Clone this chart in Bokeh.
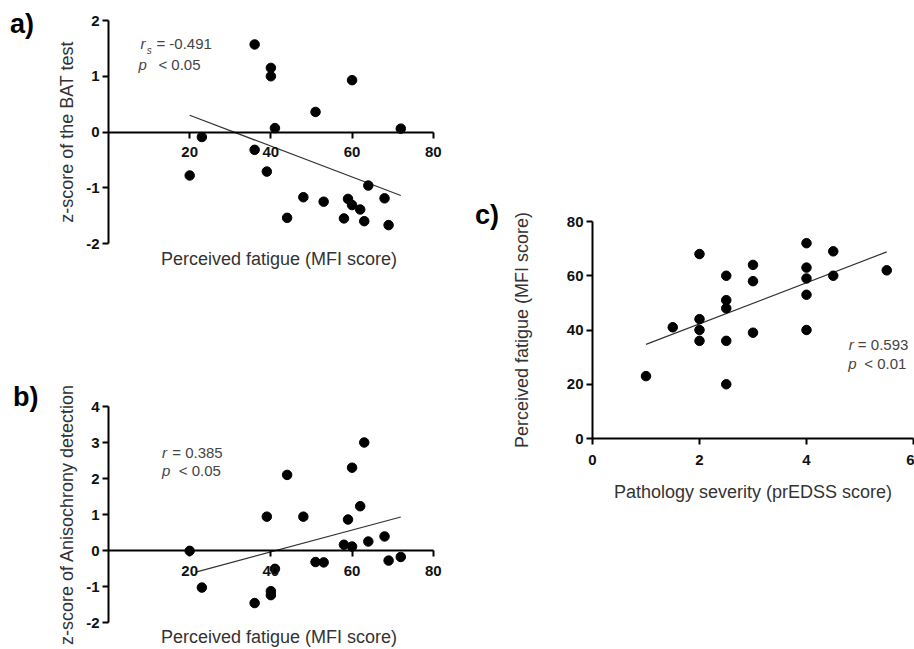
from bokeh.plotting import figure
from bokeh.models import LinearAxis, FixedTicker, Label, Spacer, Range1d, Div, Grid
from bokeh.layouts import row, column
from bokeh.embed import file_html
from bokeh.resources import INLINE

FONT = "Liberation Sans"

# ---- Panel a: BAT z-score vs perceived fatigue ----
a_mfi = [36, 40, 40, 60, 51, 41, 72, 23, 36, 20, 39, 64, 48, 53, 59, 60, 62, 68, 44, 58, 63, 69]
a_bat = [1.57, 1.15, 1.00, 0.93, 0.36, 0.07, 0.06, -0.09, -0.32, -0.78, -0.71, -0.96,
         -1.17, -1.25, -1.20, -1.31, -1.39, -1.19, -1.54, -1.55, -1.60, -1.67]
a_fit_x = [20, 72]
a_fit_y = [0.30, -1.14]

# ---- Panel b: Anisochrony z-score vs perceived fatigue ----
b_mfi = [63, 60, 44, 62, 39, 48, 59, 68, 64, 58, 60, 20, 72, 69, 51, 53, 41, 23, 40, 40, 36]
b_aniso = [3.0, 2.3, 2.1, 1.23, 0.94, 0.94, 0.86, 0.39, 0.25, 0.16, 0.11, -0.01, -0.18,
           -0.28, -0.32, -0.33, -0.51, -1.03, -1.13, -1.24, -1.46]
b_fit_x = [21.5, 72]
b_fit_y = [-0.60, 0.93]

# ---- Panel c: perceived fatigue vs pathology severity ----
c_edss = [1, 1.5, 2, 2, 2, 2, 2.5, 2.5, 2.5, 2.5, 2.5, 3, 3, 3, 4, 4, 4, 4, 4, 4.5, 4.5, 5.5]
c_mfi = [23, 41, 68, 44, 40, 36, 60, 51, 48, 36, 20, 64, 58, 39, 72, 63, 59, 53, 40, 69, 60, 62]
c_fit_x = [1.0, 5.5]
c_fit_y = [34.7, 68.8]

mfi_ticks = [20, 40, 60, 80]
a_yticks = [-2, -1, 0, 1, 2]
b_yticks = [-2, -1, 0, 1, 2, 3, 4]
c_xticks = [0, 2, 4, 6]
c_yticks = [0, 20, 40, 60, 80]
neg_labels = {-2: "-2", -1: "-1"}


def style_axis(ax, label_standoff=12, tick_standoff=4):
    ax.axis_line_width = 2
    ax.axis_line_color = "black"
    ax.major_tick_line_width = 2
    ax.major_tick_line_color = "black"
    ax.major_tick_out = 6
    ax.major_tick_in = 0
    ax.minor_tick_out = 0
    ax.minor_tick_in = 0
    ax.major_label_standoff = tick_standoff
    ax.major_label_text_font = FONT
    ax.major_label_text_font_style = "bold"
    ax.major_label_text_font_size = "15px"
    ax.major_label_text_color = "#111111"
    ax.axis_label_text_font = FONT
    ax.axis_label_text_font_style = "normal"
    ax.axis_label_text_font_size = "18px"
    ax.axis_label_text_color = "#333333"
    ax.axis_label_standoff = label_standoff


def title_axis(text, standoff):
    ax = LinearAxis(ticker=FixedTicker(ticks=[]), axis_label=text)
    ax.axis_line_color = None
    ax.major_tick_line_color = None
    ax.minor_tick_line_color = None
    ax.major_tick_out = 0
    ax.major_label_standoff = 0
    ax.axis_label_text_font = FONT
    ax.axis_label_text_font_style = "normal"
    ax.axis_label_text_font_size = "18px"
    ax.axis_label_text_color = "#333333"
    ax.axis_label_standoff = standoff
    return ax


def base_fig(w, h, xr, yr, left, right, top, bottom):
    p = figure(width=w, height=h, x_range=Range1d(*xr), y_range=Range1d(*yr),
               x_axis_location=None, y_axis_location=None,
               toolbar_location=None, output_backend="svg",
               min_border_left=left, min_border_right=right,
               min_border_top=top, min_border_bottom=bottom)
    p.outline_line_color = None
    p.background_fill_color = "white"
    p.border_fill_color = "white"
    return p


def drop_grids(p):
    p.center = [r for r in p.center if not isinstance(r, Grid)]


def add_text(p, x, y, text, size="15px", style="normal", color="#444444"):
    p.add_layout(Label(x=x, y=y, text=text, text_font=FONT, text_font_size=size,
                       text_font_style=style, text_color=color,
                       text_baseline="middle", text_align="left"))


def panel_div(text, w, h, top, left):
    html = ('<div style="font-family: \'Liberation Sans\'; font-weight: bold; '
            'font-size: 27px; line-height: 30px; color: black; white-space: nowrap; '
            'margin: %dpx 0 0 %dpx;">%s</div>' % (top, left, text))
    return Div(text=html, width=w, height=h, margin=(0, 0, 0, 0))


# ----- figure a -----
pa = base_fig(413, 290, (0, 84), (-2, 2), 68, 4, 20, 47)
ya = LinearAxis(ticker=FixedTicker(ticks=a_yticks), axis_label="z-score of the BAT test",
                major_label_overrides=neg_labels)
style_axis(ya, 6, 3)
pa.add_layout(ya, "left")
xa = LinearAxis(ticker=FixedTicker(ticks=mfi_ticks), fixed_location=0, bounds=(0, 80))
style_axis(xa, 12, 9)
pa.add_layout(xa, "below")
pa.add_layout(title_axis("Perceived fatigue (MFI score)", 5), "below")
pa.line(a_fit_x, a_fit_y, line_color="#333333", line_width=1.2)
pa.scatter(a_mfi, a_bat, size=9.5, color="black")
add_text(pa, 7.9, 1.58, "r", style="italic")
add_text(pa, 9.4, 1.46, "s", size="10px", style="italic")
add_text(pa, 11.8, 1.58, "= -0.491")
add_text(pa, 7.4, 1.21, "p", style="italic")
add_text(pa, 12.3, 1.21, "< 0.05")
drop_grids(pa)

# ----- figure b -----
pb = base_fig(413, 359, (0, 84), (-2, 4), 68, 4, 116, 26)
yb = LinearAxis(ticker=FixedTicker(ticks=b_yticks), axis_label="z-score of Anisochrony detection",
                major_label_overrides=neg_labels)
style_axis(yb, 6, 3)
pb.add_layout(yb, "left")
xb = LinearAxis(ticker=FixedTicker(ticks=mfi_ticks), fixed_location=0, bounds=(0, 80))
style_axis(xb, 12, 9)
pb.add_layout(xb, "below")
pb.add_layout(title_axis("Perceived fatigue (MFI score)", 4), "below")
pb.line(b_fit_x, b_fit_y, line_color="#333333", line_width=1.2)
pb.scatter(b_mfi, b_aniso, size=9.5, color="black")
add_text(pb, 13.2, 2.73, "r", style="italic")
add_text(pb, 15.7, 2.73, "= 0.385")
add_text(pb, 13.2, 2.23, "p", style="italic")
add_text(pb, 17.3, 2.23, "< 0.05")
drop_grids(pb)

# ----- figure c -----
pc = base_fig(406, 315, (0, 6), (0, 80), 80, 1, 26, 72)
yc = LinearAxis(ticker=FixedTicker(ticks=c_yticks), axis_label="Perceived fatigue (MFI score)")
style_axis(yc, 32, 3)
pc.add_layout(yc, "left")
xc = LinearAxis(ticker=FixedTicker(ticks=c_xticks), axis_label="Pathology severity (prEDSS score)")
style_axis(xc, 14, 10)
pc.add_layout(xc, "below")
pc.line(c_fit_x, c_fit_y, line_color="#333333", line_width=1.2)
pc.scatter(c_edss, c_mfi, size=9.5, color="black")
add_text(pc, 4.79, 34.8, "r", style="italic")
add_text(pc, 4.96, 34.8, "= 0.593")
add_text(pc, 4.78, 27.7, "p", style="italic")
add_text(pc, 5.08, 27.7, "< 0.01")
drop_grids(pc)

div_a = panel_div("a)", 40, 290, 9, 10)
div_b = panel_div("b)", 40, 359, 92, 13)
div_c = panel_div("c)", 55, 315, 5, 22)

left_block = row(column(div_a, div_b), column(pa, pb))
right_block = column(Spacer(width=461, height=195), row(div_c, pc))
layout = row(left_block, right_block)

open("out.html", "w").write(file_html(layout, INLINE))
